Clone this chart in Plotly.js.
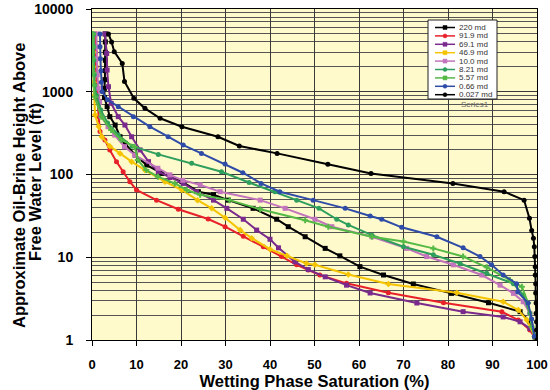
<!DOCTYPE html>
<html>
<head>
<meta charset="utf-8">
<script src="https://cdn.plot.ly/plotly-3.0.1.min.js"></script>
<style>html,body{margin:0;padding:0;background:#fff;}#chart{width:550px;height:390px;}</style>
</head>
<body>
<div id="chart"></div>
<script>
// ---- Data ----
const seriesNames = ['220 md','91.9 md','69.1 md','46.9 md','10.0 md','8.21 md','5.57 md','0.66 md','0.027 md'];

const S_220 = [3.0,3.0,3.0,3.0,3.0,2.9,2.8,2.8,3.4,4.0,5.2,6.3,7.4,9.7,12.3,15.7,20.2,23.9,27.3,30.6,36.2,41.5,44.1,47.9,52.4,55.7,60.2,65.5,72.2,80.8,89.1,96.2,98.4,99.6];
const H_220 = [5000,4000,3000,2400,1800,1400,1100,850,660,500,396,286,238,172,130,103,82,62,57,49,39,28.8,23.4,17.7,12.8,10.4,7.7,6.1,4.75,3.66,2.82,2.2,1.66,1.1];

const S_919 = [0.8,0.8,0.9,1.0,1.2,1.5,1.8,2.9,4.0,5.5,7.0,8.5,10.0,14.5,19.4,26.1,29.9,34.0,38.5,42.6,46.0,48.6,51.2,57.2,66.6,79.0,92.1,95.8,98.4,99.6];
const H_919 = [5000,3000,2000,1300,800,500,330,261,198,143,108,82,65,49,38,29,23.4,18,13.4,10.2,8.1,7,6.1,4.84,3.73,2.82,2.2,1.74,1.32,1.05];

const S_691 = [2.9,3.3,3.4,3.7,4.3,5.9,7.4,8.9,10.8,12.7,14.9,17.5,20.5,23.5,27.3,30.3,34,37,40,41.9,45.6,48.6,52.4,57.2,62.5,73,83.4,92.4,96.2,98.4,99.6];
const H_691 = [5000,2900,1830,1150,725,500,396,286,198,143,108,92,78,62,49,39,28.8,21.3,16.5,13,8.8,7.1,5.8,4.6,3.7,2.8,2.2,1.9,1.66,1.38,1.08];

const S_469 = [0.3,0.3,0.3,0.4,0.5,0.7,1.5,2.2,4.0,6.3,8.9,11.9,16.4,20.2,23.7,26.9,29.9,33.3,35.9,40,43.8,48.2,50.1,57.6,66.6,82,92.4,95.8,97.7,99.5];
const H_469 = [5000,3000,2000,1300,900,524,380,286,220,180,143,113,82,65,49,39,30,21.3,17,12.5,10.4,8.4,8.1,6.2,4.75,3.73,2.9,2.3,1.75,1.1];

const S_100 = [1.0,1.0,1.1,1.2,1.4,1.7,2.1,3.6,5.1,7.3,9.6,14.8,17.5,20.4,24.3,28.8,37.8,43.4,50.1,53.9,62.9,70.7,75.2,81.2,87.6,91.7,94.7,96.9,98.4,99.6];
const H_100 = [5000,3500,2500,1600,1100,750,500,378,300,217,172,119,99,85,75,62,49,39,28.8,23.4,17.7,12.8,10.2,8.1,6.1,4.6,3.66,2.9,2.1,1.1];

const S_821 = [0.4,0.4,0.4,0.5,0.6,1.0,2.0,3.5,5.9,9.0,14.9,22.4,29.1,35.3,41.1,46,51,55,57.6,62.9,70,76.7,82.7,88.7,94.7,96.9,98.4,99.6];
const H_821 = [5000,3500,2400,1600,1200,900,600,420,300,220,175,137,108,80,62,49,39,28.8,24.6,18.5,13.4,10.7,8.4,6.4,4.8,3.5,2.1,1.1];

const S_557 = [0.2,0.2,0.2,0.3,0.4,0.6,2.1,4.3,6.6,9.6,10.3,12.2,14.8,18.6,21.3,24.3,30.9,37.8,47.9,53.1,62.9,70,76.7,83.4,88.7,93.9,96.6,98,98.8,99.6];
const H_557 = [5000,3500,2500,1700,1200,870,500,345,261,217,150,113,94,78,65,57,49,38,28,23.4,17.7,15.5,12.8,10.2,7.55,5.3,4.4,2.8,1.45,1.05];

const S_066 = [1.8,1.8,1.9,2.0,2.1,2.3,3.5,5.9,9.3,13,17.1,20.5,24.6,29.9,33.9,38,42.2,49.7,56.9,62.5,65.1,69.6,77.5,83.4,87.2,89.8,92.4,95.4,95.7,98,98.8,99.4];
const H_066 = [5000,3500,2500,1800,1300,1000,800,660,500,378,286,227,180,134,105,78,62,49,39,31.5,28.8,23,17.7,13,10.2,8.1,6.1,4.8,3.8,2.8,1.8,1.1];

const S_0027 = [3.7,4.4,5.0,6.8,7.3,9.4,11.9,15.3,20.2,28.3,33.1,41.6,53,62.7,81.1,92.6,97.1,98.3,98.8,99.2,99.4,99.5,99.6,99.6,99.7,99.7,99.8,99.8,99.9,99.9,100];
const H_0027 = [5000,4000,3050,2200,1330,834,630,478,378,286,221,180,133,103,78,62,49,29.6,21,17,13.4,10.2,7.7,6.1,4.8,3.7,2.8,2.1,1.66,1.32,1];

const xTickVals = [0,10,20,30,40,50,60,70,80,90,100];
const yTickVals = [1,10,100,1000,10000];
const yTitleLines = ['Approximate Oil-Brine Height Above','Free Water Level (ft)'];
const xTitle = 'Wetting Phase Saturation (%)';

// ---- Styling ----
const xs = [S_220,S_919,S_691,S_469,S_100,S_821,S_557,S_066,S_0027];
const ys = [H_220,H_919,H_691,H_469,H_100,H_821,H_557,H_066,H_0027];
const colors = ['#000000','#E8202A','#7A2A8C','#F5C400','#C274BC','#2E9E5C','#55B946','#2E4BA8','#000000'];
const symbols = ['square','circle','square','diamond','square','circle','cross','circle','circle'];

const traces = seriesNames.map((n,i)=>({
  x: xs[i], y: ys[i], name: n, type: 'scatter', mode: 'lines+markers',
  line: {color: colors[i], width: 2},
  marker: {color: colors[i], size: 5, symbol: symbols[i]},
  showlegend: false
}));

// plot area in pixels: left 92, right 537, top 9, bottom 340
const L=92, R=537, T=9, B=340;
const px = v => (v-L)/(R-L);
const py = v => (B-v)/(B-T);

const fontFam = 'Liberation Sans, Arial, sans-serif';
const shapes = [];
const annotations = [];

// custom legend box
shapes.push({type:'rect', xref:'paper', yref:'paper', x0:px(428), x1:px(497), y0:py(99), y1:py(20),
  fillcolor:'#ffffff', line:{color:'#222', width:1}, layer:'above'});
seriesNames.forEach((n,i)=>{
  const yy = 27.5 + i*8.4;
  shapes.push({type:'line', xref:'paper', yref:'paper', x0:px(435), x1:px(455), y0:py(yy), y1:py(yy),
    line:{color:colors[i], width:1.5}, layer:'above'});
  const shp = (symbols[i]==='circle') ? 'circle' : 'rect';
  shapes.push({type:shp, xref:'paper', yref:'paper', x0:px(443), x1:px(447), y0:py(yy+2), y1:py(yy-2),
    fillcolor:colors[i], line:{color:colors[i], width:0.5}, layer:'above'});
  annotations.push({xref:'paper', yref:'paper', x:px(457), y:py(yy), xanchor:'left', yanchor:'middle',
    text:n, showarrow:false, font:{family:fontFam, size:8, color:'#333'}});
});
annotations.push({xref:'paper', yref:'paper', x:px(459), y:py(104), xanchor:'left', yanchor:'middle',
  text:'Series1', showarrow:false, font:{family:fontFam, size:8, color:'#666'}});

// y-axis title (two tightly spaced lines)
[19, 35].forEach((cx, k)=>{
  annotations.push({xref:'paper', yref:'paper', x:px(cx), y:py(k===0 ? 186 : 182),
    xanchor:'center', yanchor:'middle', textangle:-90, text:yTitleLines[k], showarrow:false,
    font:{family:fontFam, size:16.5, color:'#000', weight:'bold'}});
});

const layout = {
  width: 550, height: 390,
  margin: {l: L, r: 550-R, t: T, b: 390-B},
  paper_bgcolor: '#ffffff',
  plot_bgcolor: '#FFFACC',
  showlegend: false,
  xaxis: {
    range: [0, 100], tickvals: xTickVals, ticktext: xTickVals.map(String),
    showgrid: true, gridcolor: '#3a3a3a', gridwidth: 1,
    showline: true, linecolor: '#000', linewidth: 1, mirror: true,
    ticks: 'outside', ticklen: 5, tickcolor: '#000',
    ticklabelstandoff: 7,
    zeroline: false,
    tickfont: {family: fontFam, size: 13, color: '#000', weight: 'bold'},
    title: {text: xTitle, standoff: 0,
      font: {family: fontFam, size: 16.5, color: '#000', weight: 'bold'}}
  },
  yaxis: {
    type: 'log', range: [0, 4], tickvals: yTickVals, ticktext: yTickVals.map(String),
    showgrid: true, gridcolor: '#3a3a3a', gridwidth: 1,
    minor: {dtick: 'D1', showgrid: true, gridcolor: '#555', gridwidth: 1, ticks: ''},
    showline: true, linecolor: '#000', linewidth: 1, mirror: true,
    ticks: 'outside', ticklen: 5, tickcolor: '#000',
    ticklabelstandoff: 10,
    zeroline: false,
    tickfont: {family: fontFam, size: 14, color: '#000', weight: 'bold'}
  },
  shapes: shapes,
  annotations: annotations
};

Plotly.newPlot('chart', traces, layout, {displayModeBar: false, staticPlot: true});
</script>
</body>
</html>
